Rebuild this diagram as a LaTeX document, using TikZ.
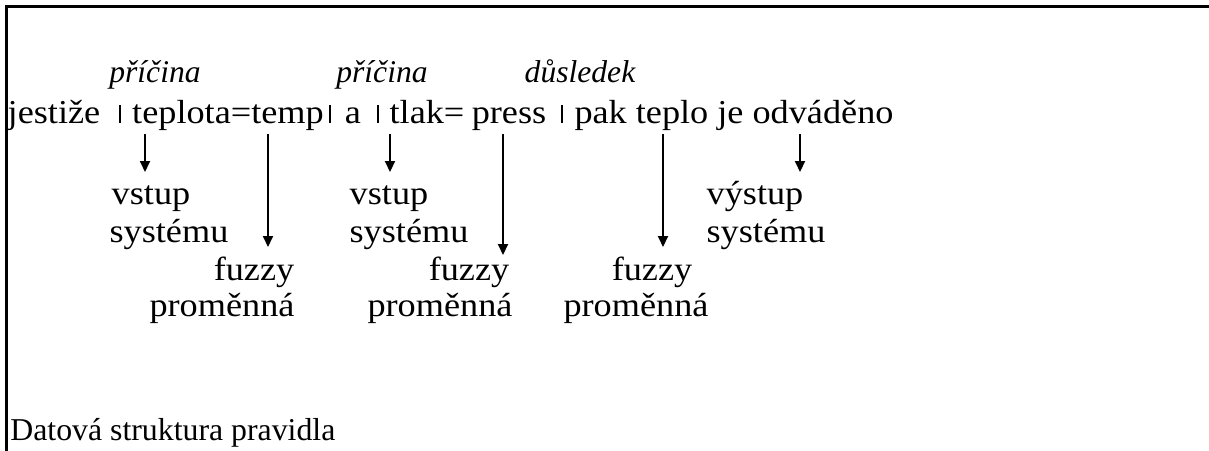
\documentclass[tikz,border=0pt]{standalone}
\usepackage{fontspec}
\setmainfont{Liberation Serif}[UprightFeatures={FakeStretch=1.085}]
\newfontfamily\plainserif{Liberation Serif}
\usetikzlibrary{arrows.meta}
\begin{document}
\begin{tikzpicture}[x=0.5pt,y=0.5pt,
  txt/.style={anchor=base, inner sep=0pt, font=\fontsize{16.7}{20}\selectfont},
  cause/.style={anchor=base, inner sep=0pt, font=\fontsize{15.8}{19}\selectfont\itshape},
  caption/.style={anchor=base west, inner sep=0pt, font=\plainserif\fontsize{15.9}{19}\selectfont},
  sepbar/.style={anchor=base, inner sep=0pt},
  arr/.style={line width=1pt, -{Triangle[width=5pt,length=5.5pt]}},
  framing/.style={line width=1.1pt}]
\useasboundingbox (0,0) rectangle (1209,-450);

% open frame: top and left edge
\draw[framing] (1212,-6.5) -| (6.5,-453);

% cause / consequence labels
\node[cause] (c1) at (155,-82) {příčina};
\node[cause] (c2) at (382,-82) {příčina};
\node[cause] (c3) at (580,-82) {důsledek};

% the rule itself
\node[txt] (w1) at (54,-123) {jestiže};
\node[sepbar] (s1) at (120,-123) {\rule{0.75pt}{8.8pt}};
\node[txt] (w2) at (228,-123) {teplota=temp};
\node[sepbar] (s2) at (330,-123) {\rule{0.75pt}{8.8pt}};
\node[txt] (w3) at (353,-123) {a};
\node[sepbar] (s3) at (378,-123) {\rule{0.75pt}{8.8pt}};
\node[txt] (w4) at (427,-123) {tlak=};
\node[txt] (w5) at (509,-123) {press};
\node[sepbar] (s4) at (562,-123) {\rule{0.75pt}{8.8pt}};
\node[txt] (w6) at (734,-123) {pak teplo je odváděno};

% roles of the parts
\node[txt] (i1a) at (151,-204) {vstup};
\node[txt] (i1b) at (169,-242) {systému};
\node[txt] (f1a) at (254,-280) {fuzzy};
\node[txt] (f1b) at (222,-316) {proměnná};
\node[txt] (i2a) at (389,-204) {vstup};
\node[txt] (i2b) at (409,-242) {systému};
\node[txt] (f2a) at (469,-280) {fuzzy};
\node[txt] (f2b) at (440,-316) {proměnná};
\node[txt] (f3a) at (652,-280) {fuzzy};
\node[txt] (f3b) at (636,-316) {proměnná};
\node[txt] (o1a) at (755,-204) {výstup};
\node[txt] (o1b) at (766,-242) {systému};

\node[caption] (title) at (10,-440) {Datová struktura pravidla};

% arrows from the rule parts to their roles
\coordinate (a1s) at (145,-134); \coordinate (a1e) at (145,-172);
\coordinate (a2s) at (268,-134); \coordinate (a2e) at (268,-247);
\coordinate (a3s) at (390,-134); \coordinate (a3e) at (390,-172);
\coordinate (a4s) at (503,-134); \coordinate (a4e) at (503,-255);
\coordinate (a5s) at (663,-134); \coordinate (a5e) at (663,-247);
\coordinate (a6s) at (800,-134); \coordinate (a6e) at (800,-172);
\foreach \k in {1,...,6} \draw[arr] (a\k s) -- (a\k e);
\end{tikzpicture}
\end{document}
